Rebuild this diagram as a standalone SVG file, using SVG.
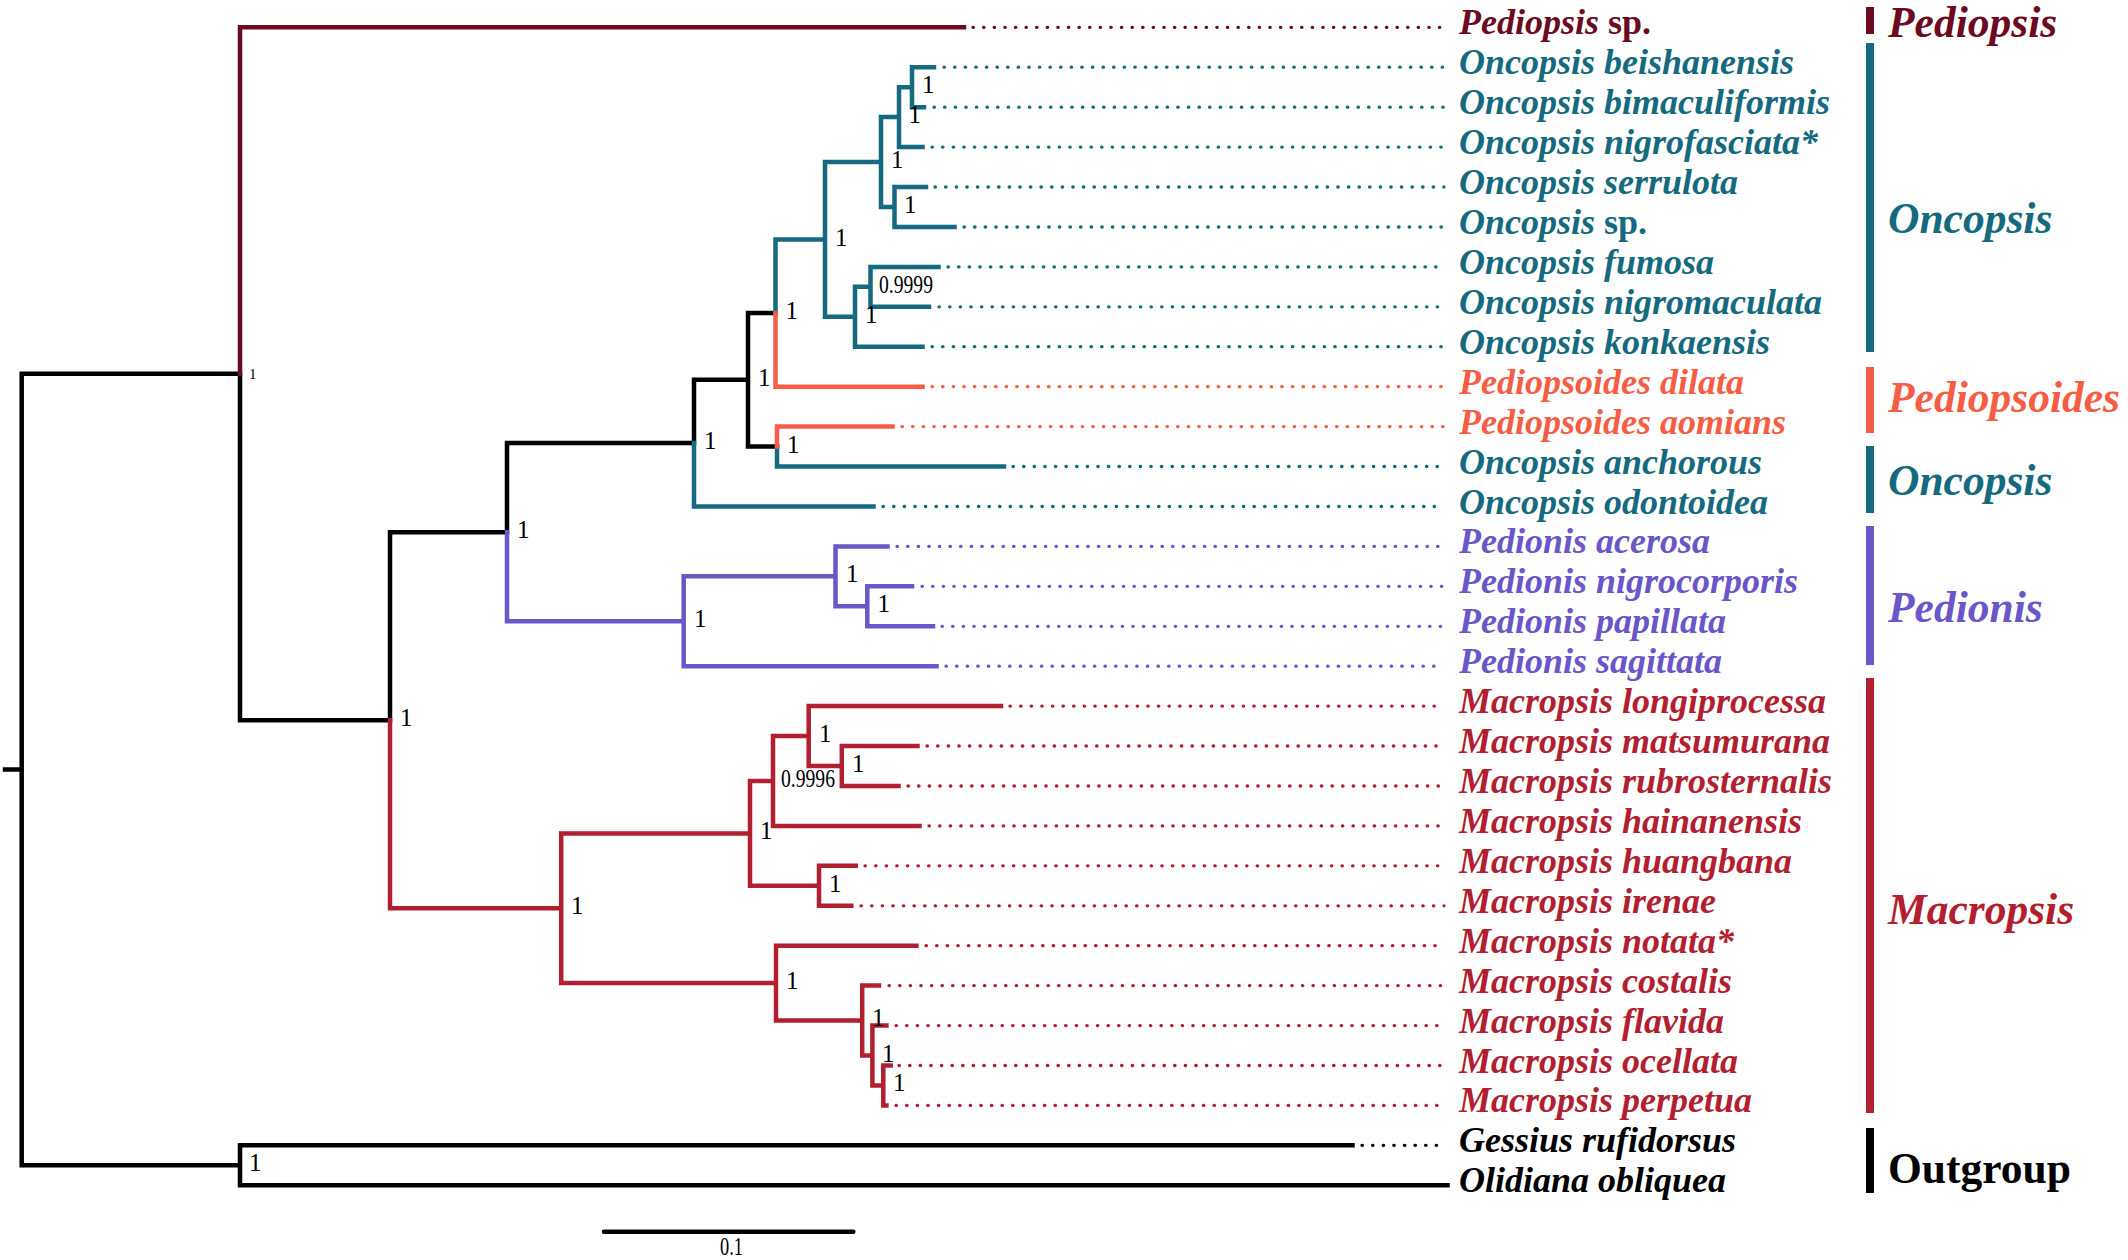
<svg xmlns="http://www.w3.org/2000/svg" width="2128" height="1260" viewBox="0 0 2128 1260">
<style>
.br{fill:none;stroke-width:4.5;stroke-linecap:square;stroke-linejoin:miter}
.dt{fill:none;stroke-width:3.3;stroke-linecap:round;stroke-dasharray:0.4 10.2}
.k{stroke:#000}.pd{stroke:#6C0A22}.tl{stroke:#156A80}.or{stroke:#F55D44}.pu{stroke:#6A56C9}.rd{stroke:#B11F30}
.tk{fill:#000}.tpd{fill:#6C0A22}.ttl{fill:#156A80}.tor{fill:#F55D44}.tpu{fill:#6A56C9}.trd{fill:#B11F30}
.sp{font-family:"Liberation Serif","Times New Roman",serif;font-size:36px;font-weight:bold;font-style:italic}
.up{font-style:normal}
.cl{font-family:"Liberation Serif","Times New Roman",serif;font-size:43.5px;font-weight:bold;font-style:italic}
.cl.upr{font-style:normal}
.nl{font-family:"Liberation Serif","Times New Roman",serif;font-size:25px;fill:#000}
.nl.sm{font-size:15px}
</style>
<rect width="2128" height="1260" fill="#fff"/>
<g id="connectors">
<path class="br k" d="M5,769.5H21.7M21.7,373.8V1165.3M21.7,373.8H240M21.7,1165.3H240M240,373.8V720.2M240,720.2H390M390,532.2V720.2M390,532.2H507M507,443.1V532.2M507,443.1H694M694,379.8V443.1M694,379.8H748M748,313.1V446.6M748,313.1H775.5M748,446.6H777M240,1145.3V1185.3M240,1145.3H1352.5M240,1185.3H1447.5"/>
<path class="br pd" d="M240,27.3V373.8M240,27.3H964"/>
<path class="br tl" d="M694,443.1V506.5H873.5M775.5,239.5V313.1M775.5,239.5H825M825,162.1V316.8M825,162.1H881M881,117.1V207M881,117.1H899M899,87.2V147.1H922.5M899,87.2H912M912,67.2V107.2M912,67.2H934M912,107.2H924M881,207H894.5M894.5,187V227H926M894.5,187H926M894.5,227H954.5M825,316.8H855M855,286.8V346.7H922.5M855,286.8H870.5M870.5,266.9V306.8M870.5,266.9H938.5M870.5,306.8H929M777,446.6V466.5H1004"/>
<path class="br or" d="M775.5,313.1V386.7H922.5M777,426.6V446.6M777,426.6H892.5"/>
<path class="br pu" d="M507,532.2V621.3H683.7M683.7,576.3V666.2H936.5M683.7,576.3H835.5M835.5,546.4V606.3H867.3M835.5,546.4H887.5M867.3,586.3V626.3H933M867.3,586.3H912"/>
<path class="br rd" d="M390,720.2V908.3H561.2M561.2,833.4V983.1H776M561.2,833.4H750M750,781V885.8H819M750,781H773M773,736.1V825.9H919.5M773,736.1H808.7M808.7,706.1V766H841.8M808.7,706.1H1001M841.8,746V786H898.5M841.8,746H917.5M819,865.8V905.8H851.3M819,865.8H855.8M776,945.7H916.4M776,945.7V1020.6H862.2M862.2,985.6V1055.5H872.4M862.2,985.6H879M872.4,1025.6V1085.4H883.3M872.4,1025.6H886.4M883.3,1065.5V1105.4H886.4M883.3,1065.5H890.7"/>
<path class="dt pd" d="M973,27.3H1444"/>
<path class="dt tl" d="M944,67.2H1444M934,107.2H1444M932,147.1H1444M935,187H1444M964,227H1444M948,266.9H1444M939,306.8H1444M932,346.7H1444M1013,466.5H1444M883,506.5H1444"/>
<path class="dt or" d="M932,386.7H1444M902,426.6H1444"/>
<path class="dt pu" d="M897,546.4H1444M922,586.3H1444M942,626.3H1444M946,666.2H1444"/>
<path class="dt rd" d="M1010,706.1H1444M927,746H1444M908,786H1444M929,825.9H1444M865,865.8H1444M861,905.8H1444M926,945.7H1444M889,985.6H1444M896,1025.6H1444M899,1065.5H1444M896,1105.4H1444"/>
<path class="dt k" d="M1362,1145.3H1444"/>
<path d="M604,1231.7H853.3" fill="none" stroke="#000" stroke-width="4.5" stroke-linecap="round"/>
</g>
<g id="support">
<text class="nl sm" x="249" y="379">1</text>
<text class="nl" x="400" y="726">1</text>
<text class="nl" x="517" y="538">1</text>
<text class="nl" x="704" y="449">1</text>
<text class="nl" x="758" y="386">1</text>
<text class="nl" x="785.5" y="319">1</text>
<text class="nl" x="787" y="452.6">1</text>
<text class="nl" x="835" y="245.5">1</text>
<text class="nl" x="891" y="168">1</text>
<text class="nl" x="908.5" y="123">1</text>
<text class="nl" x="922" y="93">1</text>
<text class="nl" x="904" y="213">1</text>
<text class="nl" x="865" y="323">1</text>
<text class="nl" x="879" y="293" textLength="54" lengthAdjust="spacingAndGlyphs">0.9999</text>
<text class="nl" x="694" y="627">1</text>
<text class="nl" x="846" y="582">1</text>
<text class="nl" x="877.5" y="612">1</text>
<text class="nl" x="571" y="914">1</text>
<text class="nl" x="760" y="839">1</text>
<text class="nl" x="781" y="787" textLength="54" lengthAdjust="spacingAndGlyphs">0.9996</text>
<text class="nl" x="819" y="742">1</text>
<text class="nl" x="852" y="772">1</text>
<text class="nl" x="829" y="892">1</text>
<text class="nl" x="786" y="989">1</text>
<text class="nl" x="872" y="1026">1</text>
<text class="nl" x="882" y="1061.5">1</text>
<text class="nl" x="893" y="1091">1</text>
<text class="nl" x="249" y="1171">1</text>
<text class="nl" x="720" y="1255" textLength="23" lengthAdjust="spacingAndGlyphs">0.1</text>
</g>
<g id="taxa">
<g id="t00"><text class="sp tpd" x="1459" y="34.3">Pediopsis <tspan class="up">sp.</tspan></text></g>
<g id="t01"><text class="sp ttl" x="1459" y="74.2">Oncopsis beishanensis</text></g>
<g id="t02"><text class="sp ttl" x="1459" y="114.2">Oncopsis bimaculiformis</text></g>
<g id="t03"><text class="sp ttl" x="1459" y="154.1">Oncopsis nigrofasciata*</text></g>
<g id="t04"><text class="sp ttl" x="1459" y="194">Oncopsis serrulota</text></g>
<g id="t05"><text class="sp ttl" x="1459" y="234">Oncopsis <tspan class="up">sp.</tspan></text></g>
<g id="t06"><text class="sp ttl" x="1459" y="273.9">Oncopsis fumosa</text></g>
<g id="t07"><text class="sp ttl" x="1459" y="313.8">Oncopsis nigromaculata</text></g>
<g id="t08"><text class="sp ttl" x="1459" y="353.7">Oncopsis konkaensis</text></g>
<g id="t09"><text class="sp tor" x="1459" y="393.7">Pediopsoides dilata</text></g>
<g id="t10"><text class="sp tor" x="1459" y="433.6">Pediopsoides aomians</text></g>
<g id="t11"><text class="sp ttl" x="1459" y="473.5">Oncopsis anchorous</text></g>
<g id="t12"><text class="sp ttl" x="1459" y="513.5">Oncopsis odontoidea</text></g>
<g id="t13"><text class="sp tpu" x="1459" y="553.4">Pedionis acerosa</text></g>
<g id="t14"><text class="sp tpu" x="1459" y="593.3">Pedionis nigrocorporis</text></g>
<g id="t15"><text class="sp tpu" x="1459" y="633.3">Pedionis papillata</text></g>
<g id="t16"><text class="sp tpu" x="1459" y="673.2">Pedionis sagittata</text></g>
<g id="t17"><text class="sp trd" x="1459" y="713.1">Macropsis longiprocessa</text></g>
<g id="t18"><text class="sp trd" x="1459" y="753">Macropsis matsumurana</text></g>
<g id="t19"><text class="sp trd" x="1459" y="793">Macropsis rubrosternalis</text></g>
<g id="t20"><text class="sp trd" x="1459" y="832.9">Macropsis hainanensis</text></g>
<g id="t21"><text class="sp trd" x="1459" y="872.8">Macropsis huangbana</text></g>
<g id="t22"><text class="sp trd" x="1459" y="912.8">Macropsis irenae</text></g>
<g id="t23"><text class="sp trd" x="1459" y="952.7">Macropsis notata*</text></g>
<g id="t24"><text class="sp trd" x="1459" y="992.6">Macropsis costalis</text></g>
<g id="t25"><text class="sp trd" x="1459" y="1032.6">Macropsis flavida</text></g>
<g id="t26"><text class="sp trd" x="1459" y="1072.5">Macropsis ocellata</text></g>
<g id="t27"><text class="sp trd" x="1459" y="1112.4">Macropsis perpetua</text></g>
<g id="t28"><text class="sp tk" x="1459" y="1152.3">Gessius rufidorsus</text></g>
<g id="t29"><text class="sp tk" x="1459" y="1192.3">Olidiana obliquea</text></g>
</g>
<g id="clades">
<g id="c-pediopsis"><rect x="1866" y="7" width="8" height="27" class="tpd"/><text class="cl tpd" x="1888" y="37">Pediopsis</text></g>
<g id="c-oncopsis1"><rect x="1866" y="43" width="8" height="309" class="ttl"/><text class="cl ttl" x="1888" y="233">Oncopsis</text></g>
<g id="c-pediopsoides"><rect x="1866" y="367" width="8" height="66" class="tor"/><text class="cl tor" x="1888" y="412">Pediopsoides</text></g>
<g id="c-oncopsis2"><rect x="1866" y="446" width="8" height="67" class="ttl"/><text class="cl ttl" x="1888" y="495">Oncopsis</text></g>
<g id="c-pedionis"><rect x="1866" y="526" width="8" height="139" class="tpu"/><text class="cl tpu" x="1888" y="621.7">Pedionis</text></g>
<g id="c-macropsis"><rect x="1866" y="678" width="8" height="435" class="trd"/><text class="cl trd" x="1888" y="924">Macropsis</text></g>
<g id="c-outgroup"><rect x="1866" y="1128" width="8" height="65" class="tk"/><text class="cl upr tk" x="1888" y="1183.3">Outgroup</text></g>
</g>
</svg>
